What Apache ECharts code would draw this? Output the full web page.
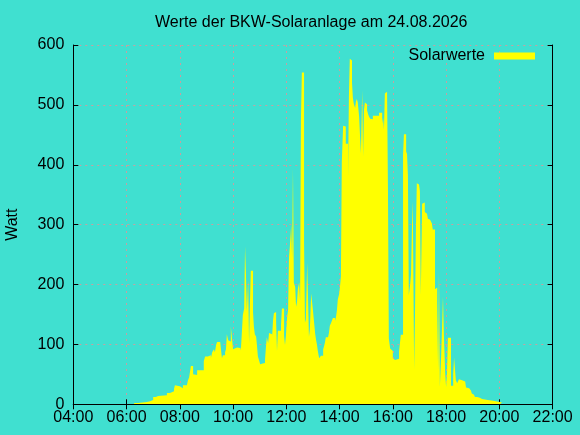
<!DOCTYPE html>
<html>
<head>
<meta charset="utf-8">
<script src="https://cdn.jsdelivr.net/npm/echarts@6/dist/echarts.min.js"></script>
<style>html,body{margin:0;padding:0;background:#40e0d0;}#c{width:580px;height:435px;}</style>
</head>
<body>
<div id="c"></div>
<script>
const chartTitle = 'Werte der BKW-Solaranlage am 24.08.2026';
const seriesName = 'Solarwerte';
const yAxisName = 'Watt';
const xTickMinutes = [240, 1320]; // 04:00 .. 22:00
const yRange = [0, 600];

const times = [
'06:17','06:26','06:46','06:53','07:00','07:06','07:11','07:15','07:31','07:38',
'07:42','07:47','07:49','07:53','08:00','08:07','08:16','08:18','08:21','08:25',
'08:30','08:32','08:39','08:54','08:57','09:03','09:10','09:13','09:17','09:19',
'09:22','09:24','09:31','09:33','09:35','09:37','09:42','09:44','09:46','09:49',
'09:51','09:55','09:58','10:00','10:04','10:09','10:16','10:18','10:22','10:25',
'10:27','10:29','10:31','10:34','10:36','10:38','10:40','10:45','10:47','10:49',
'10:52','10:54','10:56','10:58','11:01','11:03','11:05','11:07','11:10','11:12',
'11:14','11:16','11:19','11:21','11:23','11:28','11:30','11:32','11:34','11:37',
'11:39','11:41','11:48','11:50','11:55','11:57','11:59','12:02','12:04','12:06',
'12:08','12:11','12:13','12:15','12:17','12:20','12:22','12:24','12:26','12:29',
'12:31','12:33','12:35','12:40','12:42','12:44','12:47','12:51','12:53','12:56',
'13:00','13:02','13:05','13:07','13:09','13:11','13:14','13:18','13:23','13:25',
'13:27','13:29','13:34','13:36','13:38','13:41','13:43','13:45','13:50','13:52',
'13:54','13:56','13:59','14:01','14:03','14:05','14:08','14:12','14:14','14:19',
'14:21','14:23','14:26','14:28','14:30','14:32','14:35','14:37','14:39','14:41',
'14:44','14:48','14:51','14:53','14:55','14:57','15:00','15:02','15:04','15:06',
'15:09','15:13','15:15','15:29','15:36','15:38','15:40','15:42','15:45','15:47',
'15:49','15:51','15:54','15:56','15:58','16:00','16:03','16:05','16:07','16:09',
'16:14','16:16','16:18','16:23','16:25','16:30','16:32','16:34','16:36','16:39',
'16:41','16:43','16:45','16:48','16:50','16:52','16:54','16:57','16:59','17:01',
'17:03','17:06','17:08','17:10','17:12','17:15','17:17','17:19','17:21','17:24',
'17:26','17:28','17:30','17:35','17:37','17:40','17:42','17:44','17:46','17:49',
'17:53','17:55','17:58','18:00','18:02','18:04','18:11','18:16','18:18','18:22',
'18:25','18:27','18:29','18:31','18:36','18:38','18:43','18:45','18:47','18:52',
'18:54','18:56','18:58','19:01','19:03','19:05','19:10','19:16','19:21','19:25',
'19:34','19:46','20:01','20:06','20:08'
];
const watts = [
2,4,5,7,12,14,17,15,19,17,
22,26,32,30,27,32,35,39,45,64,
50,49,57,72,80,82,77,87,92,87,
100,104,107,90,77,82,87,92,117,107,
105,130,107,92,95,94,90,96,149,160,
264,219,155,207,102,169,223,154,129,117,
113,97,80,75,67,69,68,67,69,75,
95,112,102,119,117,113,140,152,154,138,
89,123,132,160,114,99,114,147,157,245,
264,300,245,394,203,196,163,171,193,204,
173,479,554,271,136,142,237,113,125,185,
157,141,118,108,100,89,77,81,92,97,
103,112,114,119,131,136,139,144,139,146,
157,175,184,197,214,404,465,464,435,378,
513,577,574,537,512,502,495,506,510,504,
481,419,524,414,492,504,501,491,485,481,
477,476,482,487,469,479,459,519,522,519,
363,110,93,90,89,77,74,73,74,76,
88,102,116,416,451,422,418,382,182,200,
218,294,339,58,154,292,369,367,365,356,
182,335,336,337,321,318,316,310,308,311,
307,302,292,192,195,171,58,222,29,84,
180,117,52,29,52,111,31,51,78,40,
35,38,42,40,39,38,35,28,27,24,
23,21,18,16,14,12,11,9,8,7,
6,4,3,2,0
];

function toMin(s){ const p = s.split(':'); return (+p[0])*60 + (+p[1]); }
function fmt(v){ const h = Math.floor(v/60), m = v%60; return (h<10?'0':'')+h+':'+(m<10?'0':'')+m; }
const data = times.map((t,i)=>[toMin(t), watts[i]]);

const FONT = 'Liberation Sans, Arial, sans-serif';
const chart = echarts.init(document.getElementById('c'), null, {renderer:'canvas'});
const tickStyle = {show:true, inside:true, length:5, lineStyle:{color:'#000', width:1}};
chart.setOption({
  backgroundColor:'#40e0d0',
  animation:false,
  textStyle:{fontFamily:FONT},
  title:{text:chartTitle, left:155, top:15, padding:0,
    textStyle:{fontSize:16, fontWeight:'normal', color:'#000', fontFamily:FONT}},
  legend:{data:[seriesName], right:45, top:48, padding:0, align:'right', icon:'rect',
    itemWidth:41, itemHeight:7,
    textStyle:{fontSize:16, color:'#000', fontFamily:FONT, padding:[0,4,0,0]}},
  grid:{left:73.3, right:27.4, top:45, bottom:30.7, containLabel:false, outerBoundsMode:'none'},
  xAxis:[
    {type:'value', position:'bottom', min:xTickMinutes[0], max:xTickMinutes[1], interval:120,
     axisLine:{show:false}, axisTick:tickStyle,
     axisLabel:{formatter:fmt, fontSize:16, color:'#000', margin:5, fontFamily:FONT},
     splitLine:{show:true, lineStyle:{color:'#c8a0a0', width:1, type:[2,4]}}},
    {type:'value', position:'top', min:xTickMinutes[0], max:xTickMinutes[1], interval:120,
     axisLine:{show:true, lineStyle:{color:'#000', width:1}}, axisTick:tickStyle,
     axisLabel:{show:false}, splitLine:{show:false}},
    {type:'value', position:'bottom', min:xTickMinutes[0], max:xTickMinutes[1], interval:120, z:10,
     axisLine:{show:true, lineStyle:{color:'#000', width:1}}, axisTick:{show:false},
     axisLabel:{show:false}, splitLine:{show:false}}
  ],
  yAxis:[
    {type:'value', position:'left', min:yRange[0], max:yRange[1], interval:100,
     name:yAxisName, nameLocation:'middle', nameRotate:90, nameGap:53,
     nameTextStyle:{fontSize:16, color:'#000', fontFamily:FONT},
     axisLine:{show:true, lineStyle:{color:'#000', width:1}}, axisTick:tickStyle,
     axisLabel:{fontSize:16, color:'#000', margin:9, fontFamily:FONT},
     splitLine:{show:true, lineStyle:{color:'#c8a0a0', width:1, type:[2,4]}}},
    {type:'value', position:'right', min:yRange[0], max:yRange[1], interval:100,
     axisLine:{show:true, lineStyle:{color:'#000', width:1}}, axisTick:tickStyle,
     axisLabel:{show:false}, splitLine:{show:false}}
  ],
  series:[{
    name:seriesName, type:'line', step:'end', data:data, xAxisIndex:0, yAxisIndex:0,
    symbol:'none', showSymbol:false, itemStyle:{color:'#ffff00'},
    lineStyle:{width:0, color:'#ffff00'},
    areaStyle:{color:'#ffff00', opacity:1}
  }]
});
</script>
</body>
</html>
